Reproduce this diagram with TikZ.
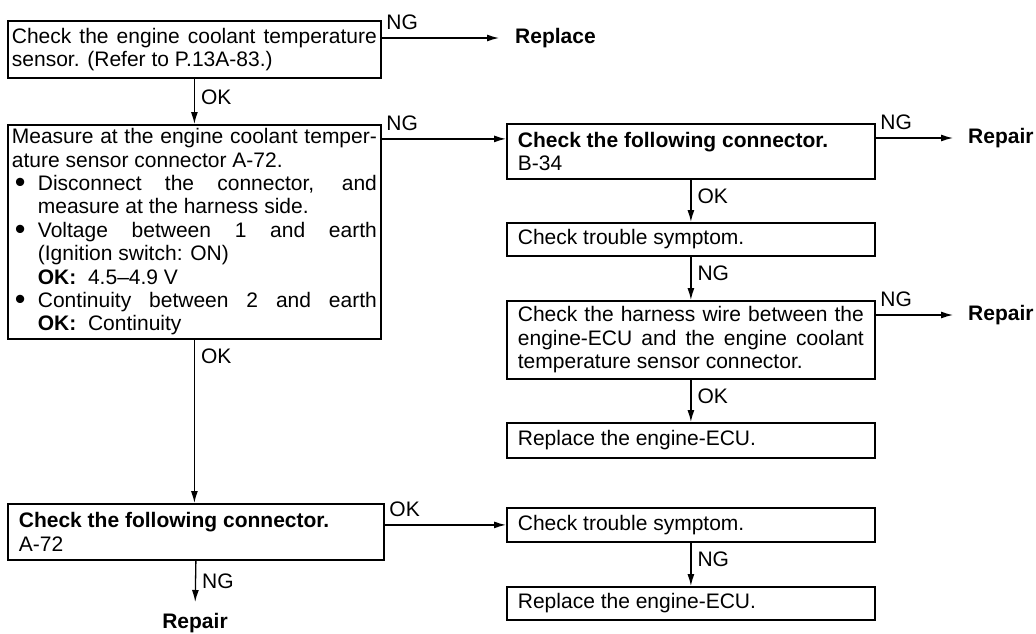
\documentclass[tikz,border=0pt]{standalone}
\usepackage{fontspec}
\setmainfont{Liberation Sans}
\usepackage{graphicx}
\usepackage{tikz}
\usetikzlibrary{arrows.meta}
\tikzset{
    riq/.style={
        draw, line width=1.8pt, anchor=north west, align=justify,
        inner ysep=0pt, font=\fontsize{21}{23.4}\selectfont
    },
    riqsx/.style={riq, text width=365pt, inner xsep=4pt},
    riqdx/.style={riq, text width=346pt, inner xsep=11pt},
    freccia/.style={line width=1.3pt, -{Latex[length=12pt,width=7pt]}},
    esito/.style={inner sep=0pt, font=\fontsize{21}{23.4}\selectfont\bfseries},
    nota/.style={above right, inner xsep=4pt, inner ysep=8pt,
        font=\fontsize{21}{23.4}\selectfont},
    notav/.style={right, inner xsep=6pt, inner ysep=0pt,
        font=\fontsize{21}{23.4}\selectfont}
}
\newcommand{\punto}{\par\noindent\hangindent=26pt\hangafter=1%
    \makebox[26pt][l]{\hspace{3pt}\smash{\raisebox{-2pt}{\scalebox{1.45}{\textbullet}}}}}

\begin{document}
\begin{tikzpicture}[x=1pt,y=-1pt]
\useasboundingbox (0,0) rectangle (1036,633);

% Colonna sinistra
\node[riqsx, minimum height=57pt] (sens) at (7,20)
    {Check the engine coolant temperature\linebreak sensor. (Refer to P.13A-83.)};
\node[riqsx, minimum height=214pt] (misura) at (7,124) {\noindent
    Measure at the engine coolant temper-\linebreak ature sensor connector A-72.
    \punto Disconnect the connector, and\linebreak measure at the harness side.
    \punto Voltage between 1 and earth\linebreak (Ignition switch: ON)\\
    \textbf{OK:}\ \ 4.5--4.9 V
    \punto Continuity between 2 and earth\linebreak \textbf{OK:}\ \ Continuity\par};
\node[riqdx, text width=354pt, minimum height=56pt] (connA) at (7,503)
    {\textbf{Check the following connector.}\\ A-72};

% Colonna destra
\node[riqdx, minimum height=55pt] (connB) at (506,123)
    {\textbf{Check the following connector.}\\ B-34};
\node[riqdx, minimum height=33pt] (sint1) at (506,222) {Check trouble symptom.};
\node[riqdx, minimum height=78pt] (cavo) at (506,300)
    {Check the harness wire between the\linebreak engine-ECU and the engine coolant\linebreak temperature sensor connector.};
\node[riqdx, minimum height=35pt] (ecu1) at (506,422) {Replace the engine-ECU.};
\node[riqdx, minimum height=34pt] (sint2) at (506,507) {Check trouble symptom.};
\node[riqdx, minimum height=33pt] (ecu2) at (506,586) {Replace the engine-ECU.};

% Esiti
\node[esito, anchor=west] (sost) at (515,38) {Replace};
\node[esito, anchor=west] (rip1) at (968,138) {Repair};
\node[esito, anchor=west] (rip2) at (968,315) {Repair};
\node[esito, anchor=north] (rip3) at (195,613) {Repair};
\coordinate (inB) at ([yshift=12.5pt]connB.west);

% Frecce orizzontali
\draw[freccia, shorten >=16pt] (sens.east |- sost.west) -- (sost.west) node[nota, pos=0] {NG};
\draw[freccia] (misura.east |- inB) -- (inB) node[nota, pos=0] {NG};
\draw[freccia, shorten >=15pt] (connB.east |- rip1.west) -- (rip1.west) node[nota, pos=0] {NG};
\draw[freccia, shorten >=15pt] (cavo.east |- rip2.west) -- (rip2.west) node[nota, pos=0] {NG};
\draw[freccia] (connA.east |- sint2.west) -- (sint2.west) node[nota, pos=0] {OK};

% Frecce verticali
\draw[freccia] (sens.south) -- (misura.north) node[notav, pos=0.4] {OK};
\draw[freccia] (misura.south) -- (misura.south |- connA.north) node[notav, pos=0.1] {OK};
\draw[freccia, shorten >=11pt] (connA.south) -- (rip3.north) node[notav, pos=0.4] {NG};
\draw[freccia] (connB.south) -- (sint1.north) node[notav, pos=0.38] {OK};
\draw[freccia] (sint1.south) -- (cavo.north) node[notav, pos=0.38] {NG};
\draw[freccia] (cavo.south) -- (ecu1.north) node[notav, pos=0.38] {OK};
\draw[freccia] (sint2.south) -- (ecu2.north) node[notav, pos=0.38] {NG};

\end{tikzpicture}
\end{document}
